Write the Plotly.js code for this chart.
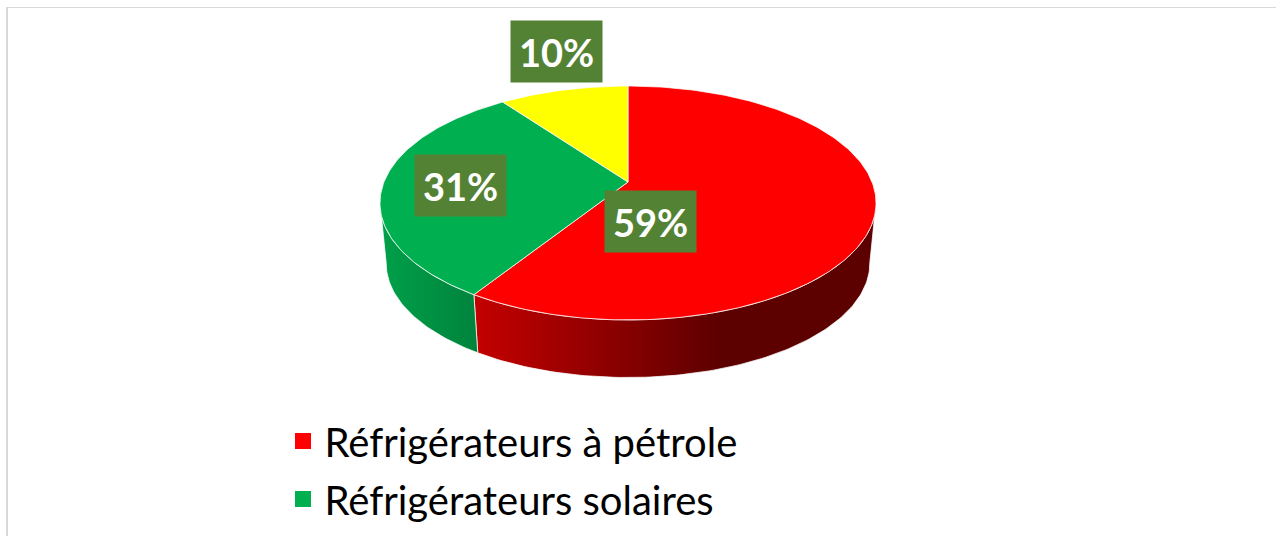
<!DOCTYPE html>
<html><head><meta charset="utf-8">
<script src="https://cdn.plot.ly/plotly-3.0.1.min.js"></script>
<style>html,body{margin:0;padding:0;background:#fff;overflow:hidden}#c{width:1276px;height:536px}</style>
</head><body><div id="c"></div><script>
const categories = ["Réfrigérateurs à pétrole", "Réfrigérateurs solaires", "Autres"];
const values = [59, 31, 10];
const sliceColors = ["#FF0000", "#00B050", "#FFFF00"];
const wallScales = [
  [[0,"#C40000"],[0.4,"#820000"],[0.62,"#5C0000"],[1,"#5C0000"]],
  [[0,"#00A04A"],[1,"#00833C"]],
  null
];
const labelCenters = [[650.5,221.5],[460.5,185.5],[556.5,51.5]];
const legendFont = 40, labelFont = 38;

// Perspective view of a disc, in pixel-scaled data units
const cam = {cx:628, cy:182, a:244, b:113.2, k:0.1795};
const floor = {cy:243, s:0.975};
function project(deg, bottom){
  const t = deg*Math.PI/180, u = Math.sin(t), v = Math.cos(t), w = 1+cam.k*v;
  const s = bottom ? floor.s : 1, cy = bottom ? floor.cy : cam.cy;
  return [cam.cx + s*cam.a*u/w, cy - s*cam.b*v/w];
}
function arc(a0, a1, bottom){
  const pts = [], n = Math.max(2, Math.ceil(Math.abs(a1-a0)));
  for(let i=0;i<=n;i++) pts.push(project(a0+(a1-a0)*i/n, bottom));
  return pts;
}
const total = values.reduce((a,b)=>a+b,0);
const seam = {color:"rgba(255,255,255,0.75)", width:1};
const visibleFrom = 100, visibleTo = 260;   // silhouette of the disc's side wall
const walls = [], tops = [];
let start = 0;
values.forEach((val,i)=>{
  const end = start + val/total*360;
  const lo = Math.max(start, visibleFrom), hi = Math.min(end, visibleTo);
  if(hi > lo && wallScales[i]){
    const pts = arc(lo,hi,false).concat(arc(hi,lo,true));
    pts.push(pts[0]);
    walls.push({type:"scatter", mode:"lines", x:pts.map(p=>p[0]), y:pts.map(p=>p[1]),
      fill:"toself", line:seam, showlegend:false, hoverinfo:"skip",
      fillgradient:{type:"horizontal", colorscale:wallScales[i]}});
  }
  const rim = arc(start,end,false);
  const poly = [[cam.cx,cam.cy]].concat(rim,[[cam.cx,cam.cy]]);
  tops.push({type:"scatter", mode:"lines", x:poly.map(p=>p[0]), y:poly.map(p=>p[1]),
    fill:"toself", fillcolor:sliceColors[i], line:seam, showlegend:false,
    name:categories[i], hoverinfo:"name"});
  start = end;
});
const legendTraces = categories.slice(0,2).map((name,i)=>({
  type:"scatter", mode:"markers", x:[null], y:[null], name:name, legendgroup:"g"+i,
  marker:{symbol:"square", size:16, color:sliceColors[i]}
}));
const annotations = values.map((v,i)=>({
  x:labelCenters[i][0], y:labelCenters[i][1], xref:"x", yref:"y", text:"<b>"+v+"%</b>",
  showarrow:false, width:91, height:61, bgcolor:"#548235", borderpad:0,
  xanchor:"center", yanchor:"middle", valign:"middle", align:"center",
  font:{family:"Lato", size:labelFont, color:"#FFFFFF"}
}));
const layout = {
  width:1276, height:536, margin:{l:0,r:0,t:0,b:0},
  paper_bgcolor:"#fff", plot_bgcolor:"#fff",
  xaxis:{range:[0,1276], visible:false, fixedrange:true},
  yaxis:{range:[536,0], visible:false, fixedrange:true},
  showlegend:true,
  legend:{x:281.5/1276, y:1-(408.5/536), xanchor:"left", yanchor:"top", bgcolor:"rgba(0,0,0,0)",
    font:{family:"Lato", size:legendFont, color:"#000"}, itemsizing:"trace", itemwidth:33,
    tracegroupgap:3, traceorder:"grouped"},
  annotations,
  shapes:[
    {type:"line", xref:"x", yref:"y", x0:7, x1:7, y0:7, y1:536, line:{color:"#D9D9D9", width:2}},
    {type:"line", xref:"x", yref:"y", x0:6, x1:1276, y0:7.5, y1:7.5, line:{color:"#D9D9D9", width:1}}
  ]
};
Plotly.newPlot("c", walls.concat(tops, legendTraces), layout, {displayModeBar:false, staticPlot:true});
</script></body></html>
